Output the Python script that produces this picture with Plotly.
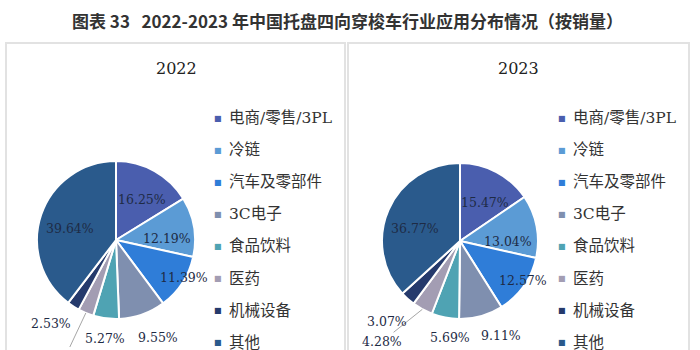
import math
import plotly.graph_objects as go

categories = ["电商/零售/3PL", "冷链", "汽车及零部件", "3C电子", "食品饮料", "医药", "机械设备", "其他"]
share_2022 = [16.25, 12.19, 11.39, 9.55, 5.27, 3.18, 2.53, 39.64]
share_2023 = [15.47, 13.04, 12.57, 9.11, 5.69, 4.28, 3.07, 36.77]
years = ["2022", "2023"]
title_text = "图表 33   2022-2023 年中国托盘四向穿梭车行业应用分布情况（按销量）"

colors = ["#4A5EAE", "#5B9BD5", "#2F7DD8", "#7F8FAF", "#4FA3B3", "#A39DB3", "#253A6C", "#2A5A8C"]

W, H = 700, 350
def px(x):
    return x / W
def py(y):
    return 1 - y / H

num_font = dict(family="DejaVu Serif, Liberation Serif, Noto Sans CJK SC", size=12.5, color="#1E2B45")

# pie boxes in pixels (left, right, top, bottom)
pie_boxes = [(37, 195, 161, 319), (382, 538, 162, 320)]
# label placement style: radial factor and angle nudge (deg) per slice
label_rad = [
    [0.61, 0.65, 0.99, 1.35, 1.26, 1.0, 1.34, 0.60],
    [0.59, 0.62, 0.95, 1.32, 1.25, 1.0, 1.39, 0.60],
]
label_nudge = [
    [4, 8, -4, -4, -1, 0, 5, -4],
    [5, 11, -3, -8, -5, 0, 0, -8],
]
# slices whose label hangs on a leader line: (slice index, text offset in px, vertical anchor)
leader = [(5, (-16, 50), "top"), (5, (-40, 32), "middle")]

fig = go.Figure()
annotations = []
for k, (vals, (x0, x1, y0, y1)) in enumerate(zip([share_2022, share_2023], pie_boxes)):
    fig.add_trace(go.Pie(
        labels=categories,
        values=vals,
        sort=False,
        direction="clockwise",
        rotation=0,
        marker=dict(colors=colors, line=dict(color="white", width=2)),
        textinfo="none",
        domain=dict(x=[px(x0), px(x1)], y=[py(y1), py(y0)]),
        showlegend=False,
        hoverinfo="label+percent",
    ))
    cx, cy = (x0 + x1) / 2, (y0 + y1) / 2
    r = (x1 - x0) / 2
    total = sum(vals)
    cum = 0.0
    for i, v in enumerate(vals):
        mid = (cum + v / 2) / total * 360
        cum += v
        li, (ax, ay), yanc = leader[k]
        if i == li:
            th = math.radians(mid)
            ex, ey = cx + r * math.sin(th), cy - r * math.cos(th)
            annotations.append(dict(text=f"{v:.2f}%", x=px(ex), y=py(ey), xref="paper", yref="paper",
                                    showarrow=True, arrowhead=0, arrowwidth=1, arrowcolor="#A6A6A6",
                                    ax=ax, ay=ay, yanchor=yanc, font=num_font,
                                    standoff=0, startstandoff=0))
            continue
        th = math.radians(mid + label_nudge[k][i])
        rr = r * label_rad[k][i]
        tx, ty = cx + rr * math.sin(th), cy - rr * math.cos(th)
        annotations.append(dict(text=f"{v:.2f}%", x=px(tx), y=py(ty), xref="paper", yref="paper",
                                showarrow=False, xanchor="center", yanchor="middle", font=num_font))

# panel borders
for x0, x1 in [(6, 345), (348, 689)]:
    fig.add_shape(type="rect", xref="paper", yref="paper",
                  x0=px(x0), x1=px(x1), y0=-0.2, y1=py(43),
                  line=dict(color="#E2E2E2", width=2), fillcolor="rgba(0,0,0,0)", layer="below")

# main title
annotations.append(dict(text=f"<b>{title_text}</b>", x=0.497, y=py(20), xref="paper", yref="paper",
                        showarrow=False, xanchor="center", yanchor="middle",
                        font=dict(family="Noto Sans CJK SC", size=17, color="#333333")))
# panel titles
for yr, tcx in zip(years, [176, 518]):
    annotations.append(dict(text=yr, x=px(tcx), y=py(68), xref="paper", yref="paper",
                            showarrow=False, xanchor="center", yanchor="middle",
                            font=dict(family="DejaVu Serif, Liberation Serif", size=16, color="#222222")))
# legends
legend_font = dict(family="DejaVu Serif, Noto Sans CJK SC", size=15.5, color="#333333")
for mx, tx in [(218, 227), (562, 571)]:
    for i, (cat, col) in enumerate(zip(categories, colors)):
        yy = 118 + i * 32.1
        annotations.append(dict(text="■", x=px(mx), y=py(yy), xref="paper", yref="paper",
                                showarrow=False, xanchor="center", yanchor="middle",
                                font=dict(family="DejaVu Sans", size=8, color=col)))
        annotations.append(dict(text=cat, x=px(tx), y=py(yy), xref="paper", yref="paper",
                                showarrow=False, xanchor="left", yanchor="middle",
                                font=legend_font))

fig.update_layout(
    width=W, height=H,
    margin=dict(l=0, r=0, t=0, b=0),
    paper_bgcolor="white",
    plot_bgcolor="white",
    annotations=annotations,
    showlegend=False,
)

fig.write_html("out.html")
